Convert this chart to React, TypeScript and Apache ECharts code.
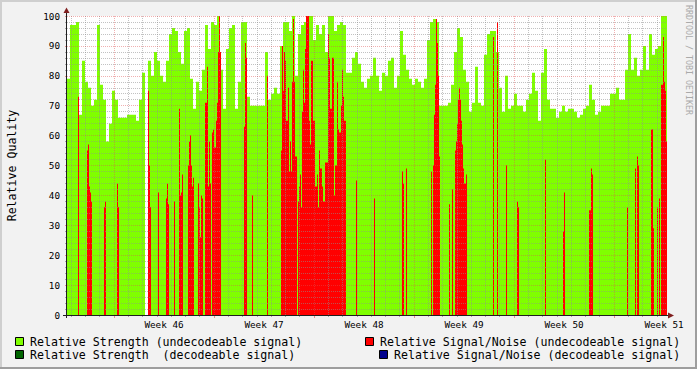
import React, { useEffect, useRef } from 'react';
import * as echarts from 'echarts';

// ---------- data ----------
// x axis: consolidated sample index (one RRD sample per pixel column), 600 samples = 6 weeks
const SAMPLE_COUNT = 600;
const WEEK_START = 47; // sample index where week 46 begins
const WEEK_LEN = 100; // samples per week
const WEEK_LABELS = ['Week 46', 'Week 47', 'Week 48', 'Week 49', 'Week 50', 'Week 51'];

// Relative Strength (undecodeable signal), one value per 3 samples
const STRENGTH_STEP = 3;
const STRENGTH_UNDECODEABLE = [
  79, 97, 97, 98, 67, 85, 78, 76, 70, 72,
  97, 77, 72, 58, 64, 75, 72, 66, 66, 66,
  67, 67, 67, 65, 72, 81, 0, 85, 80, 88,
  85, 80, 78, 85, 94, 96, 95, 88, 84, 95,
  96, 79, 69, 78, 75, 82, 97, 89, 98, 97,
  100, 82, 69, 89, 96, 97, 69, 78, 98, 98,
  73, 70, 70, 70, 70, 70, 88, 72, 74, 76,
  74, 90, 98, 98, 95, 100, 80, 94, 97, 98,
  100, 100, 92, 97, 94, 97, 88, 100, 100, 95,
  97, 98, 97, 81, 81, 86, 88, 84, 78, 76,
  79, 80, 86, 80, 75, 81, 80, 85, 86, 76,
  80, 95, 87, 82, 79, 77, 79, 78, 76, 79,
  92, 98, 99, 98, 70, 70, 70, 71, 77, 88,
  96, 93, 82, 78, 68, 71, 83, 71, 70, 87,
  94, 95, 95, 88, 76, 68, 80, 69, 70, 74,
  70, 70, 68, 72, 74, 81, 75, 65, 81, 89,
  72, 69, 69, 66, 68, 70, 68, 69, 69, 68,
  66, 67, 69, 70, 77, 72, 67, 68, 70, 70,
  70, 74, 74, 76, 72, 72, 82, 94, 82, 86,
  80, 82, 90, 82, 94, 87, 89, 90, 100, 100,
];

// Relative Signal/Noise (undecodeable signal): [fromSample, toSample, value]
const SNR_UNDECODEABLE = [
  [11, 12, 73],
  [20, 21, 55], [21, 22, 57], [22, 23, 43], [23, 24, 41], [24, 25, 38],
  [37, 38, 36], [38, 39, 38],
  [50, 51, 44], [51, 52, 36],
  [81, 82, 75], [82, 83, 50], [83, 84, 36],
  [91, 92, 41],
  [99, 100, 39], [100, 101, 44], [101, 102, 37],
  [107, 108, 38],
  [112, 113, 69], [113, 114, 40], [114, 115, 41], [115, 116, 47],
  [121, 122, 50], [122, 123, 58], [123, 124, 60], [124, 125, 50], [125, 126, 43], [126, 127, 46],
  [131, 132, 44], [132, 133, 36], [133, 134, 26], [134, 135, 40], [135, 136, 39],
  [138, 140, 71], [140, 141, 83], [141, 142, 43], [142, 143, 58], [143, 144, 44],
  [145, 146, 61], [146, 147, 62], [147, 149, 56], [149, 150, 65], [150, 151, 71], [151, 152, 88], [152, 153, 100], [153, 154, 88],
  [177, 178, 63], [178, 179, 91], [179, 180, 86],
  [185, 186, 40],
  [200, 201, 80],
  [214, 215, 55], [215, 216, 90], [216, 217, 75], [217, 218, 88], [218, 219, 85], [219, 221, 65], [221, 222, 76], [222, 223, 48], [223, 224, 58], [224, 225, 48], [225, 226, 78], [226, 227, 99], [227, 228, 78], [228, 230, 53],
  [231, 232, 38], [232, 233, 43], [233, 234, 47], [234, 235, 36], [235, 236, 68], [236, 237, 82], [237, 238, 71], [238, 239, 89], [239, 242, 100], [242, 243, 65], [243, 244, 57], [244, 246, 85], [246, 248, 65], [248, 250, 43], [250, 251, 47], [251, 252, 36], [252, 253, 55], [253, 255, 49], [255, 256, 43], [256, 258, 38], [258, 261, 51], [261, 262, 94], [262, 263, 86], [263, 265, 69], [265, 267, 86], [267, 268, 40], [268, 270, 50], [270, 271, 78], [271, 272, 62], [272, 274, 61], [274, 275, 70], [275, 276, 82], [276, 277, 73], [277, 279, 65],
  [289, 290, 45],
  [307, 308, 39],
  [335, 336, 48], [336, 337, 44],
  [339, 340, 49],
  [364, 365, 48],
  [366, 367, 50], [367, 368, 67], [368, 369, 77], [369, 370, 99], [370, 371, 91], [371, 372, 80], [372, 373, 53],
  [382, 383, 37], [385, 386, 42],
  [388, 389, 55], [389, 390, 58], [390, 391, 64], [391, 392, 72], [392, 393, 76], [393, 394, 72], [394, 395, 65], [395, 396, 57], [396, 397, 49], [397, 399, 44], [399, 400, 47],
  [426, 427, 93], [430, 431, 98], [439, 440, 50], [450, 451, 38], [451, 452, 36], [478, 479, 52], [496, 497, 28], [497, 498, 41],
  [522, 524, 35], [524, 525, 49], [525, 526, 47],
  [560, 561, 36],
  [568, 569, 49], [570, 571, 53], [571, 572, 50],
  [584, 586, 62], [586, 587, 29],
  [590, 591, 36], [592, 593, 39],
  [594, 596, 77], [596, 597, 93], [597, 598, 78], [598, 599, 75], [599, 600, 58],
];

// decodeable signal series: no samples in this period
const STRENGTH_DECODEABLE: number[][] = [];
const SNR_DECODEABLE: number[][] = [];

const Y_TICKS = [0, 10, 20, 30, 40, 50, 60, 70, 80, 90, 100];

// ---------- style ----------
const FONT = "'DejaVu Sans Mono', monospace";
const C_BACK = '#f2f2f2';
const C_SHADE_A = '#cfcfcf';
const C_SHADE_B = '#9e9e9e';
const C_GRID = 'rgba(143,143,143,0.55)';
const C_MGRID = 'rgba(222,79,79,0.45)';
const C_TICK = 'rgba(143,143,143,0.75)';
const C_MTICK = 'rgba(222,79,79,0.6)';
const C_AXIS = '#1f1f1f';
const C_ARROW = '#801f1f';
const C_STRENGTH_U = '#80ff00';
const C_STRENGTH_D = '#006400';
const C_SNR_U = '#ff0000';
const C_SNR_D = '#00008c';

const GRID = { left: 67, top: 16, width: 600, height: 299 };

export default function App() {
  const ref = useRef<HTMLDivElement>(null);

  useEffect(() => {
    if (!ref.current) return;
    const chart = echarts.init(ref.current, null, { renderer: 'svg' });

    const dayLen = WEEK_LEN / 7;
    const dayPos: number[] = [];
    const weekPos: number[] = [];
    for (let k = -10; k < 60; k++) {
      const v = WEEK_START + k * dayLen;
      if (v < 0 || v > SAMPLE_COUNT) continue;
      if (k % 7 === 0) weekPos.push(+v.toFixed(4));
      else dayPos.push(+v.toFixed(4));
    }
    const labelPos = WEEK_LABELS.map((_, i) => WEEK_START + WEEK_LEN / 2 + i * WEEK_LEN);

    const strengthData: number[][] = STRENGTH_UNDECODEABLE.map((v, i) => [i * STRENGTH_STEP, v]);
    strengthData.push([SAMPLE_COUNT, STRENGTH_UNDECODEABLE[STRENGTH_UNDECODEABLE.length - 1]]);

    const rectItem = (color: string) => (params: any, api: any) => {
      const p0 = api.coord([api.value(0), api.value(2)]);
      const p1 = api.coord([api.value(1), 0]);
      return {
        type: 'rect',
        shape: { x: p0[0], y: p0[1], width: p1[0] - p0[0], height: p1[1] - p0[1] },
        style: { fill: color },
      };
    };

    const gridLines: any[] = [];
    for (let v = 2; v < 100; v += 2) {
      if (v % 10 !== 0) gridLines.push({ yAxis: v, lineStyle: { color: C_GRID, type: [1, 1], width: 1 } });
    }
    dayPos.forEach((v) => gridLines.push({ xAxis: v, lineStyle: { color: C_GRID, type: [1, 1], width: 1 } }));
    for (let v = 10; v <= 100; v += 10) {
      gridLines.push({ yAxis: v, lineStyle: { color: C_MGRID, type: [1, 1], width: 1 } });
    }
    weekPos.forEach((v) => gridLines.push({ xAxis: v, lineStyle: { color: C_MGRID, type: [1, 1], width: 1 } }));

    const legendRows = [
      { x: 15.5, y: 337.5, color: C_STRENGTH_U, tx: 30, ty: 341.5, text: 'Relative Strength (undecodeable signal)' },
      { x: 15.5, y: 350.5, color: C_STRENGTH_D, tx: 30, ty: 355, text: 'Relative Strength  (decodeable signal)' },
      { x: 365.5, y: 337.5, color: C_SNR_U, tx: 380, ty: 341.5, text: 'Relative Signal/Noise (undecodeable signal)' },
      { x: 379.5, y: 350.5, color: C_SNR_D, tx: 394, ty: 355, text: 'Relative Signal/Noise (decodeable signal)' },
    ];

    const graphics: any[] = [
      // frame shading
      { type: 'rect', shape: { x: 0, y: 0, width: 697, height: 2 }, style: { fill: C_SHADE_A }, z: 100 },
      { type: 'rect', shape: { x: 0, y: 0, width: 2, height: 369 }, style: { fill: C_SHADE_A }, z: 100 },
      { type: 'rect', shape: { x: 0, y: 367, width: 697, height: 2 }, style: { fill: C_SHADE_B }, z: 101 },
      { type: 'rect', shape: { x: 695, y: 0, width: 2, height: 369 }, style: { fill: C_SHADE_B }, z: 101 },
      // axes
      { type: 'line', shape: { x1: 66.5, y1: 12, x2: 66.5, y2: 318 }, style: { stroke: C_AXIS, lineWidth: 1 }, z: 100 },
      { type: 'line', shape: { x1: 63, y1: 315.5, x2: 669, y2: 315.5 }, style: { stroke: C_AXIS, lineWidth: 1 }, z: 100 },
      { type: 'polygon', shape: { points: [[63.5, 13], [69.5, 13], [66.5, 7.5]] }, style: { fill: C_ARROW }, z: 101 },
      { type: 'polygon', shape: { points: [[668, 312.5], [668, 318.5], [674, 315.5]] }, style: { fill: C_ARROW }, z: 101 },
      // titles
      {
        type: 'text', x: 11.5, y: 165.5, rotation: Math.PI / 2, z: 100,
        style: { text: 'Relative Quality', fontFamily: FONT, fontSize: 11.6, fill: '#000', align: 'center', verticalAlign: 'middle' },
      },
      {
        type: 'text', x: 688.5, y: 60, rotation: -Math.PI / 2, z: 100,
        style: { text: 'RRDTOOL / TOBI OETIKER', fontFamily: FONT, fontSize: 8.3, fill: '#aaaaaa', align: 'center', verticalAlign: 'middle' },
      },
    ];
    legendRows.forEach((r) => {
      graphics.push({ type: 'rect', shape: { x: r.x, y: r.y, width: 8, height: 8 }, style: { fill: r.color, stroke: '#000', lineWidth: 1 }, z: 100 });
      graphics.push({
        type: 'text', x: r.tx, y: r.ty, z: 100,
        style: { text: r.text, fontFamily: FONT, fontSize: 11.6, fill: '#000', align: 'left', verticalAlign: 'middle' },
      });
    });

    chart.setOption({
      animation: false,
      backgroundColor: C_BACK,
      grid: { ...GRID, show: true, backgroundColor: '#ffffff', borderWidth: 0 },
      xAxis: [
        {
          type: 'value', min: 0, max: SAMPLE_COUNT,
          axisLine: { show: false }, splitLine: { show: false },
          axisTick: { show: true, customValues: dayPos, length: 2, lineStyle: { color: C_TICK } },
          axisLabel: {
            customValues: labelPos, margin: 5, color: '#000', fontFamily: FONT, fontSize: 9.3,
            formatter: (v: number) => WEEK_LABELS[Math.round((v - WEEK_START - WEEK_LEN / 2) / WEEK_LEN)] ?? '',
          },
        },
        {
          type: 'value', min: 0, max: SAMPLE_COUNT, position: 'bottom', offset: 0,
          axisLine: { show: false }, splitLine: { show: false }, axisLabel: { show: false },
          axisTick: { show: true, customValues: weekPos, length: 3, lineStyle: { color: C_MTICK } },
        },
      ],
      yAxis: {
        type: 'value', min: 0, max: 100, interval: 10,
        axisLine: { show: false }, splitLine: { show: false },
        axisTick: { show: true, length: 2, lineStyle: { color: C_MTICK } },
        minorTick: { show: true, splitNumber: 5, length: 2, lineStyle: { color: C_TICK } },
        axisLabel: {
          margin: 7, color: '#000', fontFamily: FONT, fontSize: 9.3,
          customValues: Y_TICKS,
        },
      },
      series: [
        {
          name: 'Relative Strength (undecodeable signal)',
          type: 'line', step: 'end', data: strengthData, symbol: 'none', showSymbol: false,
          lineStyle: { width: 0, opacity: 0 }, areaStyle: { color: C_STRENGTH_U, opacity: 1 },
          silent: true, z: 2,
        },
        {
          name: 'Relative Strength (decodeable signal)',
          type: 'custom', data: STRENGTH_DECODEABLE, renderItem: rectItem(C_STRENGTH_D),
          encode: { x: [0, 1], y: 2 }, silent: true, z: 3,
        },
        {
          name: 'Relative Signal/Noise (undecodeable signal)',
          type: 'custom', data: SNR_UNDECODEABLE, renderItem: rectItem(C_SNR_U),
          encode: { x: [0, 1], y: 2 }, silent: true, z: 4,
        },
        {
          name: 'Relative Signal/Noise (decodeable signal)',
          type: 'custom', data: SNR_DECODEABLE, renderItem: rectItem(C_SNR_D),
          encode: { x: [0, 1], y: 2 }, silent: true, z: 5,
        },
        {
          name: 'grid',
          type: 'line', data: [], silent: true, z: 10,
          markLine: { silent: true, symbol: ['none', 'none'], label: { show: false }, animation: false, data: gridLines },
        },
      ],
      graphic: graphics,
    });

    return () => chart.dispose();
  }, []);

  return <div ref={ref} style={{ position: 'fixed', left: 0, top: 0, width: 697, height: 369 }} />;
}
